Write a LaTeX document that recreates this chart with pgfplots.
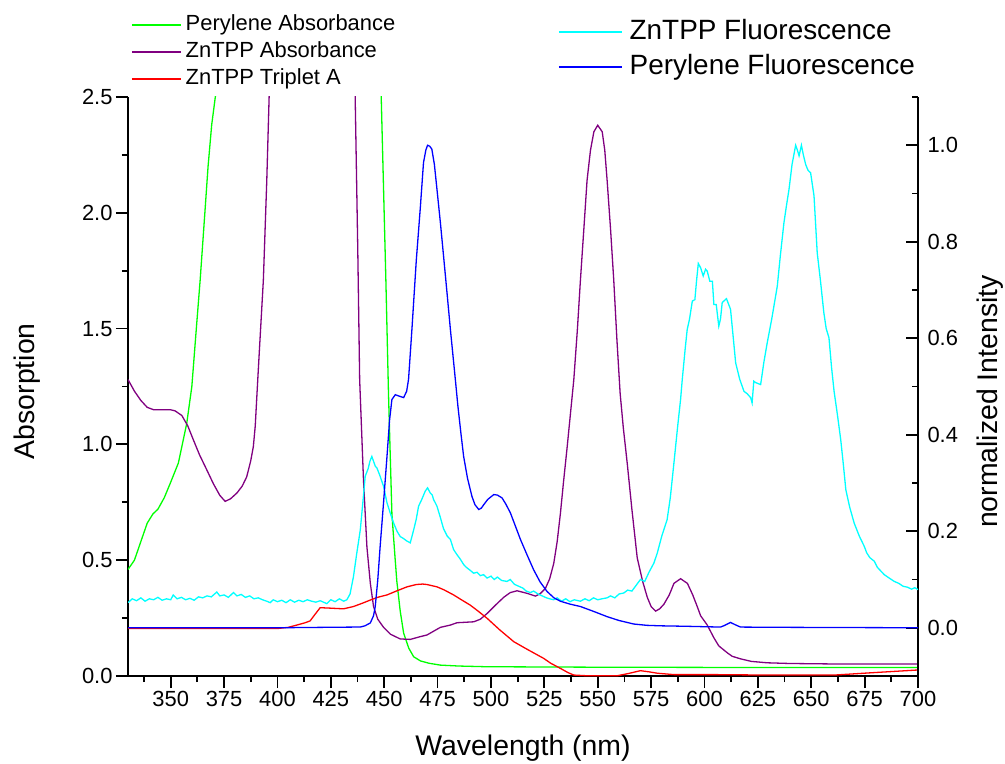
\documentclass[border=0pt]{standalone}
\usepackage{fontspec}
\setmainfont{Liberation Sans}
\usepackage{pgfplots}
\pgfplotsset{compat=1.18}
\definecolor{cgreen}{RGB}{0,255,0}
\definecolor{cpurple}{RGB}{128,0,128}
\definecolor{cred}{RGB}{255,0,0}
\definecolor{ccyan}{RGB}{0,255,255}
\definecolor{cblue}{RGB}{0,0,255}
\pgfplotsset{
  common/.style={
    at={(0,0)}, anchor=south west,
    scale only axis, width=790bp, height=579bp,
    xmin=330, xmax=700,
    axis line style={-, line width=2bp, black},
    major tick length=12bp, minor tick length=6bp,
    every tick/.style={black, line width=1.8bp},
    tick label style={font=\fontsize{22}{26}\selectfont},
    /pgf/number format/assume math mode=true,
    legend cell align=left,
  }
}
\begin{document}
\begin{tikzpicture}
\path[use as bounding box] (-128bp,-88bp) rectangle (877bp,676bp);
\begin{axis}[common,
  ymin=0, ymax=2.5,
  axis x line*=bottom, axis y line*=left,
  xtick={350,375,400,425,450,475,500,525,550,575,600,625,650,675,700},
  minor xtick={337.5,362.5,387.5,412.5,437.5,462.5,487.5,512.5,537.5,562.5,587.5,612.5,637.5,662.5,687.5},
  ytick={0,0.5,1.0,1.5,2.0,2.5},
  minor ytick={0.25,0.75,1.25,1.75,2.25},
  tick align=outside,
  yticklabel style={/pgf/number format/fixed, /pgf/number format/fixed zerofill, /pgf/number format/precision=1},
  xticklabel style={/pgf/number format/fixed, /pgf/number format/precision=0},
  xlabel={Wavelength (nm)}, ylabel={Absorption},
  every axis x label/.style={at={(axis description cs:0.5,-0.1244)}, anchor=center, font=\fontsize{28.5}{32}\selectfont},
  every axis y label/.style={at={(axis description cs:-0.128,0.492)}, anchor=center, rotate=90, font=\fontsize{28.5}{32}\selectfont},
  legend style={at={(axis description cs:0.0038,1.1425)}, anchor=north west, draw=none, fill=none,
    font=\fontsize{22}{26}\selectfont, inner sep=0pt, row sep=6bp, column sep=4bp,
    nodes={inner sep=0pt, text height=16bp, text depth=5bp}},
  legend image code/.code={\draw[#1, line width=1.5bp] (0bp,0bp) -- (49bp,0bp);},
]
\addlegendimage{cgreen}
\addlegendentry{Perylene Absorbance}
\addlegendimage{cpurple}
\addlegendentry{ZnTPP Absorbance}
\addlegendimage{cred}
\addlegendentry{ZnTPP Triplet A}
\addplot[cgreen, line width=1.3bp, forget plot] coordinates {
(330,0.46) (333,0.50) (336,0.58) (339,0.66) (341.7,0.70) (344,0.72) (347,0.77) (349.7,0.83)
(353.6,0.92) (357.5,1.09) (359.9,1.25) (362,1.50) (363.8,1.71) (366,2.00) (367.5,2.20) (369.2,2.38)
(371.6,2.55) (374,2.8) (380,3.2) (388,3.5) (398,3.3) (410,3.8) (425,3.5) (436,4.0) (443,3.4) (446,2.9)
(448.6,2.5) (449.7,2.1) (450.8,1.7) (452,1.22) (453.6,0.70) (455,0.52) (455.9,0.41) (457.5,0.28)
(459.1,0.185) (461.5,0.12) (463.8,0.083) (467,0.065) (471,0.055) (476.3,0.047) (485,0.043) (498,0.040)
(550,0.038) (607,0.037) (650,0.037) (700,0.037)
};
\addplot[cpurple, line width=1.3bp, forget plot] coordinates {
(330,1.28) (333,1.23) (336,1.19) (339,1.16) (341.9,1.15) (345,1.15) (349.7,1.15) (352,1.145) (355.2,1.125)
(358,1.08) (360.6,1.02) (363.5,0.955) (366.9,0.89) (370,0.83) (373,0.78) (375.5,0.754) (378,0.765)
(381,0.79) (383.5,0.82) (385.6,0.86) (387.5,0.93) (388.7,0.99) (389.6,1.08) (390.3,1.20) (391.5,1.40)
(393.4,1.71) (395,2.14) (396.1,2.5) (398,3.0) (405,4) (420,6) (430,5) (434,3.5) (436.4,2.5) (437.6,1.85)
(438.5,1.28) (440.3,0.845) (441.9,0.557) (443.5,0.40) (445,0.30) (447,0.245) (449.7,0.21) (453,0.18)
(457.5,0.16) (462.2,0.158) (466.9,0.17) (470,0.177) (476.3,0.21) (481,0.22) (484.1,0.23) (491.9,0.234)
(495,0.245) (498.2,0.27) (502,0.305) (506,0.34) (509,0.36) (512.2,0.368) (516.9,0.357) (520.8,0.345)
(523,0.355) (525.5,0.378) (527.5,0.42) (529.4,0.486) (531,0.58) (532.5,0.70) (534,0.84) (535.7,0.99)
(538.8,1.28) (540.5,1.50) (541.9,1.71) (543.5,1.93) (545,2.14) (546.6,2.27) (548.2,2.35) (550,2.378)
(552.1,2.35) (553.3,2.27) (554.4,2.14) (556,1.93) (557.5,1.71) (559,1.45) (560.5,1.22) (562,1.07)
(563.8,0.92) (566,0.72) (568.5,0.51) (571,0.41) (573.2,0.34) (575,0.30) (577.1,0.28) (579,0.29)
(581,0.31) (583.5,0.35) (585.7,0.40) (588.8,0.42) (592,0.40) (594.5,0.35) (596.6,0.30) (598.2,0.26)
(601.3,0.22) (604.4,0.165) (606.7,0.13) (610.7,0.10) (613,0.085) (616.9,0.074) (622,0.063) (629.4,0.057)
(640,0.054) (660,0.052) (700,0.052)
};
\addplot[cred, line width=1.3bp, forget plot] coordinates {
(330,0.205) (400,0.205) (405,0.21) (409.1,0.22) (413,0.23) (415.3,0.238) (417.5,0.265) (420,0.295)
(424.7,0.293) (430.9,0.29) (435.6,0.30) (440,0.315) (443.5,0.328) (447,0.34) (451.3,0.35) (456,0.368)
(460.7,0.385) (465,0.395) (468,0.397) (470,0.395) (474.7,0.385) (478,0.372) (482.5,0.35) (486,0.33)
(490.3,0.306) (494,0.28) (498.2,0.249) (504,0.20) (510.7,0.148) (517,0.115) (524.7,0.076) (528,0.055)
(532.5,0.033) (536,0.015) (538.8,0.004) (545,0.001) (559.1,0.001) (564,0.01) (570,0.023) (574,0.018)
(577.9,0.012) (585.7,0.006) (604.4,0.006) (630,0.004) (660.7,0.004) (680,0.015) (700,0.026)
};
\end{axis}
\begin{axis}[common,
  ymin=-0.1, ymax=1.1,
  axis x line=none, axis y line*=right,
  xtick=\empty,
  ytick={0,0.2,0.4,0.6,0.8,1.0},
  minor ytick={-0.1,0.1,0.3,0.5,0.7,0.9,1.1},
  ytick align=inside,
  yticklabel style={/pgf/number format/fixed, /pgf/number format/fixed zerofill, /pgf/number format/precision=1, xshift=6bp},
  ylabel={normalized Intensity},
  every axis y label/.style={at={(axis description cs:1.091,0.474)}, anchor=center, rotate=90, font=\fontsize{28.5}{32}\selectfont},
  legend style={at={(axis description cs:0.5443,1.135)}, anchor=north west, draw=none, fill=none,
    font=\fontsize{28}{32}\selectfont, inner sep=0pt, row sep=9bp, column sep=7bp,
    nodes={inner sep=0pt, text height=20bp, text depth=6bp}},
  legend image code/.code={\draw[#1, line width=1.5bp] (0bp,0bp) -- (63bp,0bp);},
]
\addlegendimage{ccyan}
\addlegendentry{ZnTPP Fluorescence}
\addlegendimage{cblue}
\addlegendentry{Perylene Fluorescence}
\addplot[ccyan, line width=1.3bp, forget plot] coordinates {
(330,0.052) (332,0.060) (334,0.056) (336,0.062) (338,0.055) (340,0.060) (342,0.058) (344,0.063) (346,0.057)
(348,0.060) (350,0.058) (351.2,0.068) (353,0.060) (355,0.063) (357,0.058) (359,0.061) (361,0.057) (363,0.064)
(365,0.062) (367,0.066) (369,0.064) (371.6,0.074) (373,0.066) (375,0.068) (377,0.063) (379.4,0.073) (381,0.066)
(383,0.069) (385,0.063) (387,0.066) (389,0.060) (391,0.062) (393,0.058) (395,0.055) (396.6,0.052) (398,0.058)
(400,0.054) (402,0.057) (404,0.052) (406,0.058) (408,0.053) (410,0.057) (412,0.054) (414,0.058) (416,0.055)
(418,0.053) (420,0.056) (423.1,0.050) (425,0.058) (427,0.054) (429,0.060) (431,0.055) (432.5,0.058) (434,0.070)
(435.6,0.106) (437,0.150) (438.8,0.203) (440,0.26) (441.1,0.314) (442.5,0.330) (443.3,0.345) (444.2,0.355)
(445,0.345) (445.8,0.335) (446.6,0.331) (448,0.315) (449.7,0.293) (451.3,0.259) (452.8,0.238) (454.4,0.217)
(456,0.200) (457.5,0.189) (459,0.185) (460.5,0.180) (462.2,0.176) (463.8,0.203) (465,0.225) (466.1,0.252)
(467.5,0.265) (469.2,0.283) (470.3,0.29) (471.6,0.279) (472.5,0.275) (473.1,0.266) (474.7,0.252) (476.2,0.23)
(477.8,0.205) (479.5,0.19) (481,0.183) (482.5,0.162) (484,0.152) (485.5,0.143) (487.2,0.131) (488.5,0.125)
(490,0.12) (491.9,0.113) (493.5,0.115) (495,0.108) (496.5,0.110) (498.2,0.103) (500,0.107) (501.5,0.100)
(503,0.105) (505,0.098) (507.5,0.096) (509,0.100) (511,0.090) (513,0.086) (515,0.082) (516.5,0.076)
(518.5,0.073) (520,0.076) (522,0.070) (524,0.066) (526,0.062) (527.5,0.060) (529.4,0.058) (531,0.062)
(533,0.055) (535,0.060) (537,0.054) (539,0.058) (541.9,0.055) (544,0.060) (546,0.056) (548,0.062) (550,0.058)
(552,0.060) (554.4,0.062) (556,0.066) (558,0.062) (560,0.070) (562.2,0.072) (564,0.078) (566,0.076)
(568,0.088) (570,0.100) (572,0.096) (574,0.115) (576.3,0.134) (577.9,0.155) (580,0.19) (582.5,0.224)
(584,0.27) (585.7,0.342) (587.5,0.42) (588.8,0.473) (589.6,0.515) (591,0.58) (591.9,0.618) (593,0.64)
(594.3,0.677) (595.5,0.68) (596.3,0.72) (597.1,0.755) (598.2,0.746) (599.4,0.729) (600.5,0.743) (601.3,0.739)
(602.5,0.718) (603.7,0.718) (604.4,0.67) (605.5,0.67) (606.7,0.625) (607.5,0.64) (608.3,0.674) (610.3,0.682)
(612.2,0.66) (613.5,0.60) (614.6,0.549) (616.5,0.515) (618.5,0.49) (620,0.485) (621.6,0.477) (622.3,0.466)
(623.1,0.511) (624,0.508) (626.3,0.504) (627.8,0.55) (629.4,0.591) (631.5,0.64) (634.1,0.708) (635.5,0.77)
(637.2,0.839) (638.4,0.875) (639.6,0.909) (641,0.96) (642.7,1.0) (643.5,0.99) (644.3,0.978) (645.4,1.0)
(646.3,0.98) (647.4,0.96) (648.5,0.948) (649.7,0.943) (651.3,0.895) (652,0.84) (652.8,0.777) (654.3,0.72)
(655.9,0.653) (657,0.62) (658.3,0.601) (659.5,0.54) (660.7,0.49) (662.3,0.44) (663.8,0.39) (665,0.34)
(666.2,0.286) (668,0.25) (670.1,0.217) (672.5,0.19) (674.8,0.169) (676,0.155) (677.5,0.145) (679.5,0.138)
(681,0.125) (682.5,0.118) (684.2,0.11) (686.5,0.103) (688.9,0.096) (691,0.092) (693,0.086) (695.1,0.084)
(697,0.080) (698.5,0.083) (700,0.079)
};
\addplot[cblue, line width=1.3bp, forget plot] coordinates {
(330,0) (400,0) (438.8,0.0015) (441,0.004) (443.5,0.01) (445,0.025) (445.8,0.044) (447,0.10) (448.1,0.169)
(449.7,0.26) (451.3,0.355) (452.5,0.43) (453.6,0.473) (455.2,0.483) (457,0.48) (459.1,0.477) (460.5,0.49)
(461.4,0.515) (463,0.62) (465,0.76) (466.9,0.87) (468.4,0.964) (469.5,0.99) (470.3,1.0) (471.3,0.998)
(472.3,0.992) (473.5,0.96) (474.7,0.909) (476.3,0.84) (477.8,0.77) (479.5,0.69) (481,0.618) (483.3,0.515)
(484.5,0.46) (486,0.40) (487.2,0.355) (489,0.31) (491.1,0.272) (492.5,0.255) (494.3,0.245) (495.5,0.248)
(496.6,0.255) (498.5,0.266) (501.3,0.276) (503,0.275) (505.2,0.269) (507,0.256) (509.1,0.238) (511.5,0.21)
(513.8,0.183) (517,0.15) (520,0.12) (523,0.095) (526.3,0.075) (529.5,0.062) (532.5,0.055) (537,0.049)
(541.9,0.044) (548,0.034) (554.4,0.023) (560,0.015) (566.9,0.0077) (573,0.005) (579.4,0.004) (591.9,0.003)
(607.5,0.0014) (609.5,0.005) (612.2,0.011) (614.5,0.006) (616.9,0.0014) (630,0.001) (660,0.0005) (700,0)
};
\end{axis}
\end{tikzpicture}
\end{document}
